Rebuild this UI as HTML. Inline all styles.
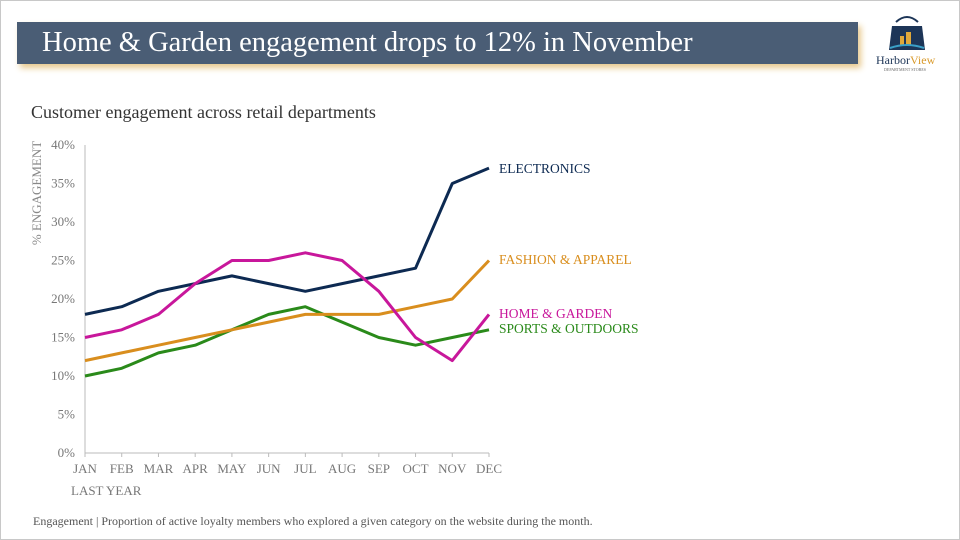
<!DOCTYPE html>
<html><head><meta charset="utf-8"><style>
body{margin:0;width:960px;height:540px;background:#fff;overflow:hidden;font-family:"Liberation Serif",serif;position:relative}
.frame{position:absolute;left:0;top:0;width:958px;height:538px;border:1px solid #c8c8c8}
.title{position:absolute;left:17px;top:22px;width:841px;height:42px;background:#4a5d75;box-shadow:3px 4px 6px #e8c98e;color:#fff;font-size:28.5px;line-height:42px;padding-left:25px;box-sizing:border-box}
.sub{position:absolute;left:31px;top:102px;font-size:18px;color:#333}
.foot{position:absolute;left:33px;top:514px;font-size:12px;color:#555}
</style></head><body>
<div class="frame"></div>
<div class="title">Home &amp; Garden engagement drops to 12% in November</div>
<svg style="position:absolute;left:872px;top:14px" width="70" height="60">
<path d="M24 8 q11 -10 22 0" stroke="#1d3557" stroke-width="2" fill="none"/>
<path d="M20 12 h30 l3 24 h-36z" fill="#1d3557"/>
<rect x="34" y="18" width="5" height="14" fill="#e0a83a"/><rect x="28" y="22" width="4" height="10" fill="#e0a83a"/>
<path d="M18 34 q17 -6 34 0" stroke="#3aa0c8" stroke-width="2" fill="none"/>
<text x="4" y="50" font-size="12" font-family="Liberation Serif" fill="#1d3557">Harbor<tspan fill="#d99a2b">View</tspan></text>
<text x="12" y="57" font-size="4" fill="#666">DEPARTMENT STORES</text>
</svg>
<div class="sub">Customer engagement across retail departments</div>
<svg id="chart" style="position:absolute;left:0;top:0" width="960" height="540"></svg>
<div class="foot">Engagement | Proportion of active loyalty members who explored a given category on the website during the month.</div>
<script>
const months=["JAN","FEB","MAR","APR","MAY","JUN","JUL","AUG","SEP","OCT","NOV","DEC"];
const yTicks=[0,5,10,15,20,25,30,35,40];
const electronics=[18,19,21,22,23,22,21,22,23,24,35,37];
const fashion=[12,13,14,15,16,17,18,18,18,19,20,25];
const home=[15,16,18,22,25,25,26,25,21,15,12,18];
const sports=[10,11,13,14,16,18,19,17,15,14,15,16];
const seriesNames=["ELECTRONICS","FASHION & APPAREL","HOME & GARDEN","SPORTS & OUTDOORS"];
const svg=document.getElementById('chart');const NS='http://www.w3.org/2000/svg';
const x0=85,x1=489,y0=453,y1=145;
const xs=i=>x0+(x1-x0)*i/(months.length-1);
const ys=v=>y0-(y0-y1)*v/40;
function mk(t,a){const e=document.createElementNS(NS,t);for(const k in a)e.setAttribute(k,a[k]);svg.appendChild(e);return e;}
let e=mk('line',{x1:x0,y1:y1,x2:x0,y2:y0,stroke:'#bbb'});


e=mk('line',{x1:x0,y1:y0,x2:x1,y2:y0,stroke:'#bbb'});


yTicks.forEach(v=>{const t=mk('text',{x:x0-10,y:ys(v)+4,'text-anchor':'end','font-size':13,fill:'#777','font-family':'Liberation Serif'});t.textContent=v+'%';

});
months.forEach((m,i)=>{const l=mk('line',{x1:xs(i),y1:y0,x2:xs(i),y2:y0+4,stroke:'#bbb'});


const t=mk('text',{x:xs(i),y:y0+20,'text-anchor':'middle','font-size':13,fill:'#777','font-family':'Liberation Serif'});t.textContent=m;

});
e=mk('text',{x:71,y:495,'font-size':13,fill:'#777','font-family':'Liberation Serif'});e.textContent='LAST YEAR';


e=mk('text',{x:0,y:0,'font-size':13,fill:'#888','font-family':'Liberation Serif','text-anchor':'middle',transform:'translate(41,193) rotate(-90)'});e.textContent='% ENGAGEMENT';


const all=[electronics,fashion,home,sports];const cols=['#0d2a52','#d98e1e','#c8179b','#2a8a1a'];
const labY=[169,260,314,329];
[3,1,0,2].forEach(k=>{const p=mk('polyline',{points:all[k].map((v,i)=>xs(i)+','+ys(v)).join(' '),fill:'none',stroke:cols[k],'stroke-width':3,'stroke-linejoin':'round'});

});
seriesNames.forEach((n,k)=>{const t=mk('text',{x:499,y:labY[k]+4,'font-size':13.5,fill:cols[k],'font-family':'Liberation Serif'});t.textContent=n;

});
</script>
</body></html>
